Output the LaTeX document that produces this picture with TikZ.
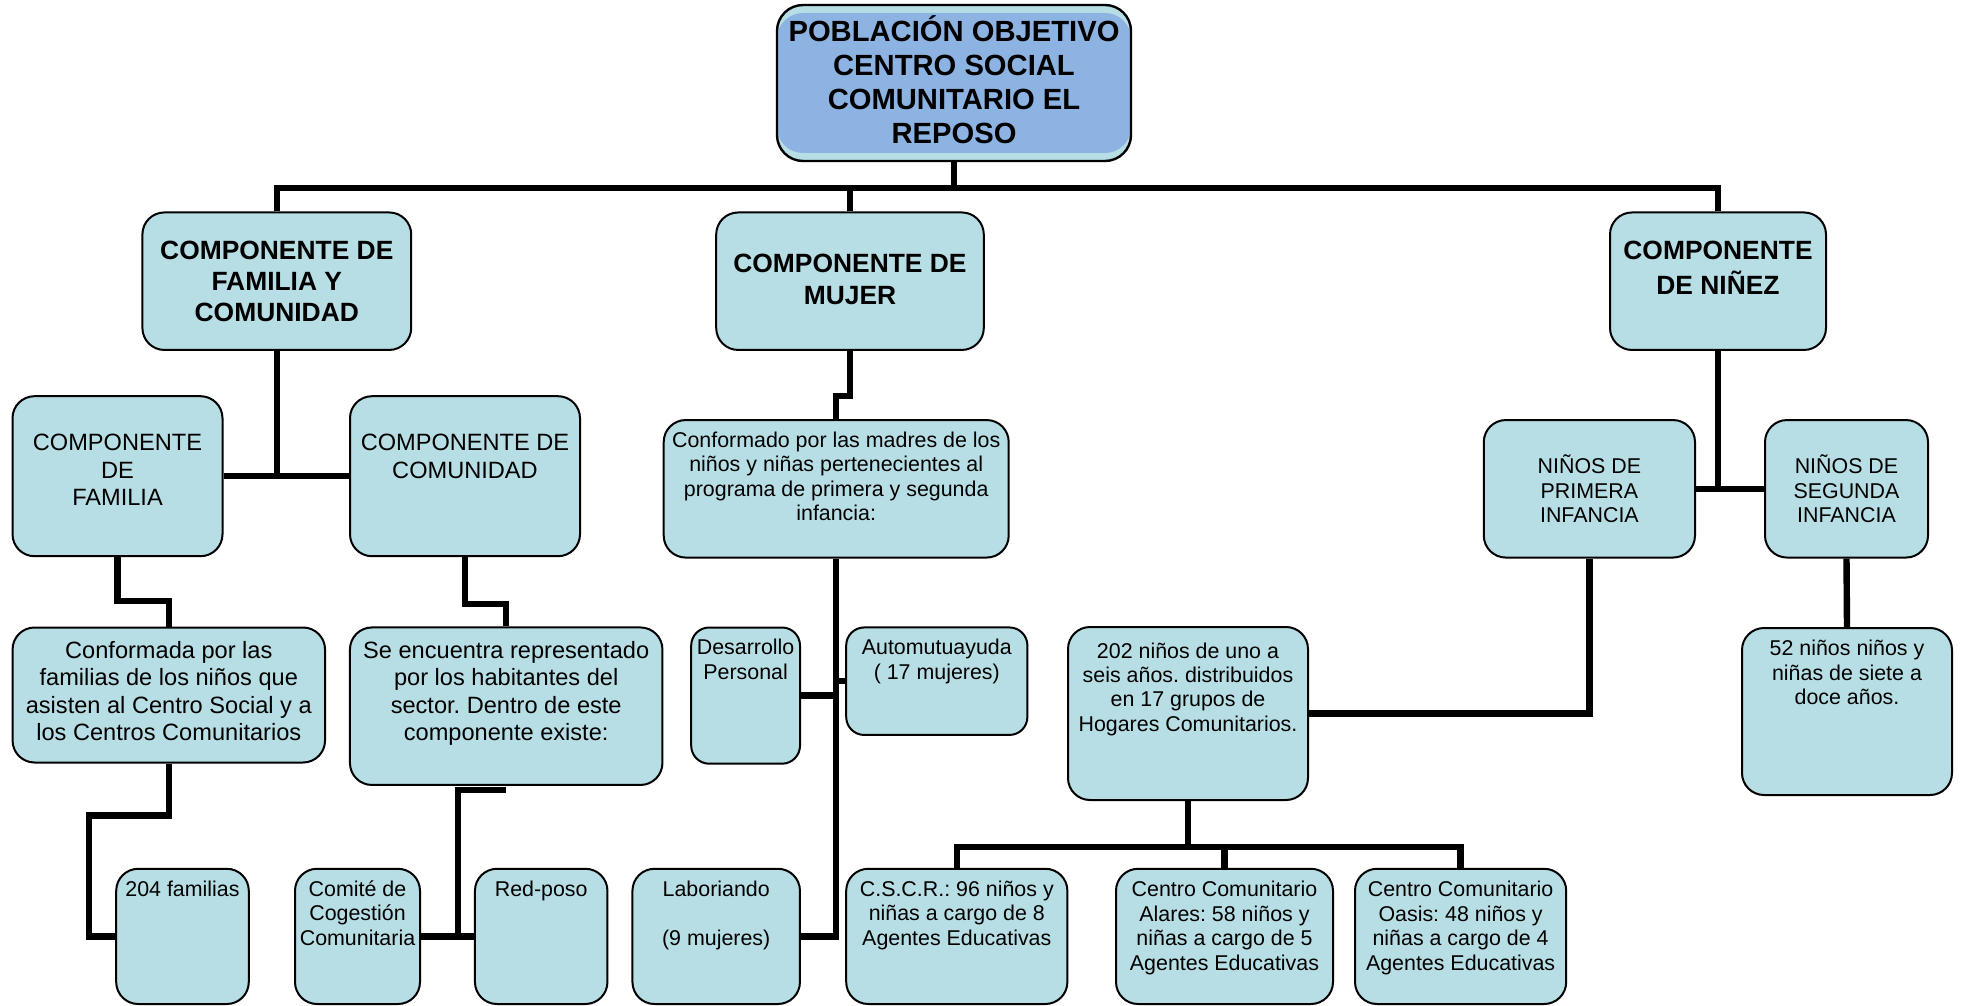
\documentclass[tikz,border=0pt]{standalone}
\usepackage{fontspec}
\setmainfont{Liberation Sans}
\usepackage{xcolor}
\usepackage{tikz}
\usetikzlibrary{positioning,calc}
\frenchspacing

\definecolor{cajaazul}{RGB}{183,222,228}
\definecolor{raizazul}{RGB}{141,179,226}

% text of a box: width, height, top gap, lines
\newcommand{\textocaja}[4]{\parbox[c][#2pt][t]{#1pt}{\centering\vspace*{#3pt}\strut#4\par}}

\tikzset{
  caja/.style={draw=black, line width=1pt, fill=cajaazul, rounded corners=11pt, inner sep=0pt},
  titulo/.style={caja, font=\bfseries\fontsize{13.2}{15.6}\selectfont},
  medio/.style={caja, font=\fontsize{11.8}{13.75}\selectfont},
  chico/.style={caja, font=\fontsize{10.7}{12.2}\selectfont},
  linea/.style={line width=3.2pt}
}

\begin{document}
\begin{tikzpicture}[x=1pt, y=-1pt]
    \useasboundingbox (0,0) rectangle (980.5,503);

    % root
    \node[caja, line width=1.2pt, rounded corners=13pt,
          font=\bfseries\fontsize{14.6}{17}\selectfont,
          path picture={\fill[raizazul] ([yshift=-4pt]path picture bounding box.north west)
                        rectangle ([yshift=4pt]path picture bounding box.south east);}]
        (raiz) at (477,41.5) {\textocaja{177}{78}{5.2}{POBLACIÓN OBJETIVO\\CENTRO SOCIAL\\COMUNITARIO EL\\REPOSO}};

    % components
    \node[titulo] (fyc) at (138.4,140.6) {\textocaja{134.4}{68.75}{12.45}{COMPONENTE DE\\FAMILIA Y\\COMUNIDAD}};
    \node[titulo] (mujer) at (425,140.6) {\textocaja{133.8}{68.75}{19.3}{COMPONENTE DE\\MUJER}};
    \node[titulo] (ninez) at (859,140.6) {\textocaja{108}{68.75}{12.45}{COMPONENTE\\DE NIÑEZ}};

    % familia y comunidad
    \node[medio] (familia) at (58.75,238.1) {\textocaja{105}{80}{17.6}{COMPONENTE\\DE\\FAMILIA}};
    \node[medio] (comunidad) at (232.5,238.1) {\textocaja{115}{80}{17.6}{COMPONENTE DE\\COMUNIDAD}};
    \node[medio] (conformada) at (84.4,347.5) {\textocaja{156.25}{67.5}{5.75}{Conformada por las\\familias de los niños que\\asisten al Centro Social y a\\los Centros Comunitarios}};
    \node[medio] (seenc) at (253.1,353.1) {\textocaja{156.25}{78.75}{5.75}{Se encuentra representado\\por los habitantes del\\sector. Dentro de este\\componente existe:}};
    \node[chico] (fam204) at (91.25,468.2) {\textocaja{66.3}{67.6}{5.2}{204 familias}};
    \node[chico] (comite) at (178.75,468.2) {\textocaja{62.5}{67.6}{5.2}{Comité de\\Cogestión\\Comunitaria}};
    \node[chico] (redposo) at (270.6,468.2) {\textocaja{66.25}{67.6}{5.2}{Red-poso}};

    % mujer
    \node[chico] (madres) at (418.1,244.4) {\textocaja{172.5}{68.75}{5.2}{Conformado por las madres de los\\niños y niñas pertenecientes al\\programa de primera y segunda\\infancia:}};
    \node[chico, rounded corners=9pt] (desarrollo) at (372.8,347.8) {\textocaja{54.4}{68.1}{5.2}{Desarrollo\\Personal}};
    \node[chico, rounded corners=9pt] (automutua) at (468.4,340.6) {\textocaja{90.6}{53.75}{5.2}{Automutuayuda\\( 17 mujeres)}};
    \node[chico] (laboriando) at (358.1,468.2) {\textocaja{83.75}{67.6}{5.2}{Laboriando\\\mbox{}\\(9 mujeres)}};

    % ninez
    \node[chico] (primera) at (794.7,244.4) {\textocaja{105.6}{68.75}{17.4}{NIÑOS DE\\PRIMERA\\INFANCIA}};
    \node[chico] (segunda) at (923.25,244.4) {\textocaja{81.5}{68.75}{17.4}{NIÑOS DE\\SEGUNDA\\INFANCIA}};
    \node[chico] (ninos52) at (923.5,355.75) {\textocaja{105}{83.5}{5.3}{52 niños niños y\\niñas de siete a\\doce años.}};
    \node[chico] (hogares) at (594,356.75) {\textocaja{120}{86.5}{7}{202 niños de uno a\\seis años. distribuidos\\en 17 grupos de\\Hogares Comunitarios.}};
    \node[chico] (cscr) at (478.4,468.2) {\textocaja{110.6}{67.6}{5.2}{C.S.C.R.: 96 niños y\\niñas a cargo de 8\\Agentes Educativas}};
    \node[chico] (alares) at (612.25,468.2) {\textocaja{108.5}{67.6}{5.5}{Centro Comunitario\\Alares: 58 niños y\\niñas a cargo de 5\\Agentes Educativas}};
    \node[chico] (oasis) at (730.3,468.2) {\textocaja{105.6}{67.6}{5.5}{Centro Comunitario\\Oasis: 48 niños y\\niñas a cargo de 4\\Agentes Educativas}};

    % connectors
    \coordinate (bus) at (477,94);
    \draw[linea] (raiz.south) -- (raiz.south |- bus);
    \draw[linea] (fyc.north) -- (fyc.north |- bus) -- (ninez.north |- bus) -- (ninez.north);
    \draw[linea] (mujer.north) -- (mujer.north |- bus);

    \draw[linea] (fyc.south) -- (fyc.south |- familia.east);
    \draw[linea] (familia.east) -- (comunidad.west);
    \draw[linea] (familia.south) -- ++(0,22) -| (conformada.north);
    \draw[linea] (comunidad.south) -- ++(0,23.5) -| (seenc.north);
    \draw[linea] (conformada.south) -- ++(0,26) -| ([xshift=-13pt]fam204.west) -- (fam204.west);
    \draw[linea] ([yshift=-2pt]seenc.south) -- ([xshift=-24pt,yshift=-2pt]seenc.south) |- (comite.east);
    \draw[linea] (comite.east) -- (redposo.west);

    \draw[linea] (mujer.south) -- ++(0,22.5) -| (madres.north);
    \draw[linea] (madres.south) |- (laboriando.east);
    \draw[linea] (desarrollo.east) -- (desarrollo.east -| madres.south);
    \draw[linea] (automutua.west) -- (automutua.west -| madres.south);

    \draw[linea] (ninez.south) -- (ninez.south |- primera.east);
    \draw[linea] (primera.east) -- (segunda.west);
    \draw[linea] (segunda.south) -- (ninos52.north);
    \draw[linea] (primera.south) |- (hogares.east);
    \draw[linea] (hogares.south) -- ++(0,23) coordinate (hb);
    \draw[linea] (cscr.north) -- (cscr.north |- hb) -- (oasis.north |- hb) -- (oasis.north);
    \draw[linea] (alares.north) -- (alares.north |- hb);
\end{tikzpicture}
\end{document}
